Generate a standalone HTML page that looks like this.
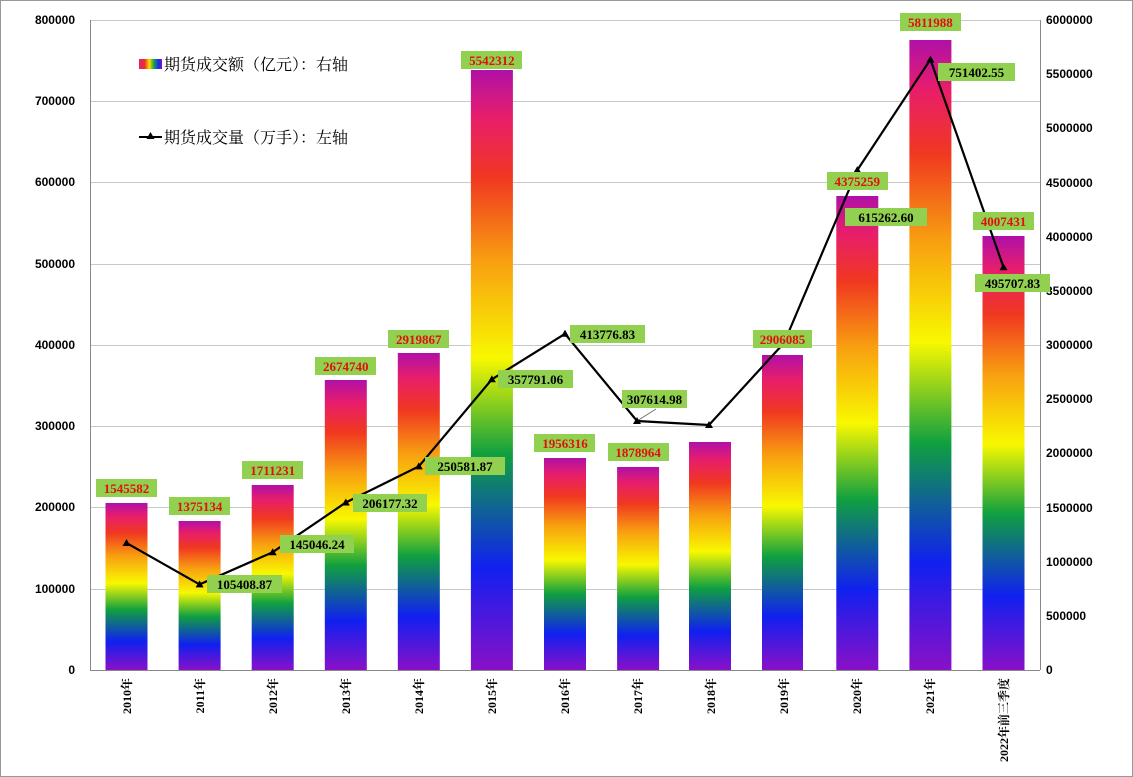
<!DOCTYPE html>
<html><head><meta charset="utf-8"><style>
body{margin:0;background:#fff}
svg{display:block;font-family:"Liberation Serif","Noto Serif CJK SC",serif}
</style></head><body>
<svg width="1133" height="777" viewBox="0 0 1133 777">
<defs>
<linearGradient id="rb" x1="0" y1="1" x2="0" y2="0">
<stop offset="0" stop-color="#8a10c8"/>
<stop offset="0.17" stop-color="#1020f0"/>
<stop offset="0.36" stop-color="#10a040"/>
<stop offset="0.52" stop-color="#f8f800"/>
<stop offset="0.68" stop-color="#f8a010"/>
<stop offset="0.82" stop-color="#f03820"/>
<stop offset="0.92" stop-color="#e81e6a"/>
<stop offset="1" stop-color="#b010a8"/>
</linearGradient>
<linearGradient id="lg" x1="0" y1="0" x2="1" y2="0">
<stop offset="0" stop-color="#e0207a"/><stop offset="0.25" stop-color="#f03020"/><stop offset="0.45" stop-color="#f8e000"/><stop offset="0.65" stop-color="#20a040"/><stop offset="0.85" stop-color="#1030f0"/><stop offset="1" stop-color="#8010c0"/>
</linearGradient>
</defs>
<rect x="0.5" y="0.5" width="1132" height="776" fill="#fff" stroke="#999"/>
<g stroke="#c8c8c8" stroke-width="1">
<line x1="90" y1="20.5" x2="1040" y2="20.5"/><line x1="90" y1="101.5" x2="1040" y2="101.5"/>
<line x1="90" y1="182.5" x2="1040" y2="182.5"/><line x1="90" y1="264.5" x2="1040" y2="264.5"/>
<line x1="90" y1="345.5" x2="1040" y2="345.5"/><line x1="90" y1="426.5" x2="1040" y2="426.5"/>
<line x1="90" y1="507.5" x2="1040" y2="507.5"/><line x1="90" y1="589.5" x2="1040" y2="589.5"/>
</g>
<g fill="url(#rb)">
<rect x="105.5" y="503" width="42" height="167"/>
<rect x="178.6" y="521" width="42" height="149"/>
<rect x="251.7" y="485" width="42" height="185"/>
<rect x="324.8" y="380" width="42" height="290"/>
<rect x="397.8" y="353" width="42" height="317"/>
<rect x="470.9" y="70" width="42" height="600"/>
<rect x="544" y="458" width="42" height="212"/>
<rect x="617.1" y="467" width="42" height="203"/>
<rect x="689" y="442" width="42" height="228"/>
<rect x="762" y="355" width="41" height="315"/>
<rect x="836.3" y="196" width="42" height="474"/>
<rect x="909.4" y="40" width="42" height="630"/>
<rect x="982.5" y="236" width="42" height="434"/>
</g>
<g stroke="#888" stroke-width="1">
<line x1="90.5" y1="20" x2="90.5" y2="670"/><line x1="1040.5" y1="20" x2="1040.5" y2="670"/>
<line x1="90" y1="670.5" x2="1040" y2="670.5"/>
</g>
<g font-family="Liberation Sans,sans-serif" font-weight="bold" font-size="12" fill="#000">
<g text-anchor="end">
<text x="75" y="24">800000</text><text x="75" y="105">700000</text><text x="75" y="186">600000</text>
<text x="75" y="268">500000</text><text x="75" y="349">400000</text><text x="75" y="430">300000</text>
<text x="75" y="511">200000</text><text x="75" y="593">100000</text><text x="75" y="674">0</text>
</g>
<g>
<text x="1046" y="24">6000000</text><text x="1046" y="78">5500000</text><text x="1046" y="132">5000000</text>
<text x="1046" y="187">4500000</text><text x="1046" y="241">4000000</text><text x="1046" y="295">3500000</text>
<text x="1046" y="349">3000000</text><text x="1046" y="403">2500000</text><text x="1046" y="457">2000000</text>
<text x="1046" y="512">1500000</text><text x="1046" y="566">1000000</text><text x="1046" y="620">500000</text>
<text x="1046" y="674">0</text>
</g>
</g>
<g font-family="Liberation Serif,Noto Serif CJK SC,serif" font-weight="bold" font-size="12" text-anchor="end">
<text transform="translate(131,678) rotate(-90)">2010年</text>
<text transform="translate(204,678) rotate(-90)">2011年</text>
<text transform="translate(277,678) rotate(-90)">2012年</text>
<text transform="translate(350,678) rotate(-90)">2013年</text>
<text transform="translate(423,678) rotate(-90)">2014年</text>
<text transform="translate(496,678) rotate(-90)">2015年</text>
<text transform="translate(569,678) rotate(-90)">2016年</text>
<text transform="translate(642,678) rotate(-90)">2017年</text>
<text transform="translate(715,678) rotate(-90)">2018年</text>
<text transform="translate(788,678) rotate(-90)">2019年</text>
<text transform="translate(861,678) rotate(-90)">2020年</text>
<text transform="translate(934,678) rotate(-90)">2021年</text>
<text transform="translate(1008,678) rotate(-90)">2022年前三季度</text>
</g>
<polyline fill="none" stroke="#000" stroke-width="2.2" points="126.5,543 199.6,584.4 272.7,552.2 345.8,502.5 418.8,466.4 491.9,379.3 565,333.8 637,421 709,425 784,343 857.3,170.1 930.4,59.5 1003.5,267.2"/>
<line x1="637" y1="421" x2="656" y2="409" stroke="#666" stroke-width="0.8"/>
<g fill="#000">
<path d="M126.5,539 l4,7 h-8z"/><path d="M199.6,580.4 l4,7 h-8z"/><path d="M272.7,548.2 l4,7 h-8z"/>
<path d="M345.8,498.5 l4,7 h-8z"/><path d="M418.8,462.4 l4,7 h-8z"/><path d="M491.9,375.3 l4,7 h-8z"/>
<path d="M565,329.8 l4,7 h-8z"/><path d="M637,417 l4,7 h-8z"/><path d="M709,421 l4,7 h-8z"/>
<path d="M857.3,166.1 l4,7 h-8z"/><path d="M930.4,55.5 l4,7 h-8z"/><path d="M1003.5,263.2 l4,7 h-8z"/>
</g>
<g font-weight="bold" font-size="13" text-anchor="middle">
<g fill="#92d050">
<rect x="96" y="479" width="61" height="18"/><rect x="169" y="497" width="61" height="18"/>
<rect x="242" y="461" width="61" height="18"/><rect x="315" y="357" width="61" height="18"/>
<rect x="388" y="330" width="61" height="18"/><rect x="461" y="51" width="61" height="18"/>
<rect x="534" y="434" width="61" height="18"/><rect x="608" y="443" width="61" height="18"/>
<rect x="753" y="330" width="59" height="18"/><rect x="827" y="172" width="61" height="18"/>
<rect x="900" y="13" width="61" height="18"/><rect x="973" y="212" width="61" height="18"/>
</g>
<g fill="#e01010">
<text x="126.5" y="493">1545582</text><text x="199.6" y="511">1375134</text>
<text x="272.7" y="475">1711231</text><text x="345.8" y="371">2674740</text>
<text x="418.8" y="344">2919867</text><text x="491.9" y="65">5542312</text>
<text x="565" y="448">1956316</text><text x="638.1" y="457">1878964</text>
<text x="782.5" y="344">2906085</text><text x="857.3" y="186">4375259</text>
<text x="930.4" y="27">5811988</text><text x="1003.5" y="226">4007431</text>
</g>
<g fill="#92d050">
<rect x="207" y="575" width="75" height="18"/><rect x="280" y="535" width="74" height="18"/>
<rect x="353" y="494" width="74" height="18"/><rect x="425" y="457" width="80" height="18"/>
<rect x="498" y="370" width="75" height="18"/><rect x="570" y="325" width="75" height="18"/>
<rect x="622" y="390" width="65" height="18"/><rect x="845" y="208" width="82" height="18"/>
<rect x="938" y="63" width="77" height="18"/><rect x="975" y="274" width="75" height="18"/>
</g>
<g fill="#000">
<text x="244.5" y="589">105408.87</text><text x="317" y="549">145046.24</text>
<text x="390" y="508">206177.32</text><text x="465" y="471">250581.87</text>
<text x="535.5" y="384">357791.06</text><text x="607.5" y="339">413776.83</text>
<text x="654.5" y="404">307614.98</text><text x="886" y="222">615262.60</text>
<text x="976.5" y="77">751402.55</text><text x="1012.5" y="288">495707.83</text>
</g>
</g>
<rect x="139" y="59" width="23" height="10" fill="url(#lg)"/>
<text x="164" y="70" font-size="16" font-family="Liberation Serif,Noto Serif CJK SC,serif">期货成交额（亿元）：右轴</text>
<line x1="139" y1="137" x2="162" y2="137" stroke="#000" stroke-width="2"/>
<path d="M150.5,132 l4,7 h-8z" fill="#000"/>
<text x="164" y="143" font-size="16" font-family="Liberation Serif,Noto Serif CJK SC,serif">期货成交量（万手）：左轴</text>
</svg>
</body></html>
